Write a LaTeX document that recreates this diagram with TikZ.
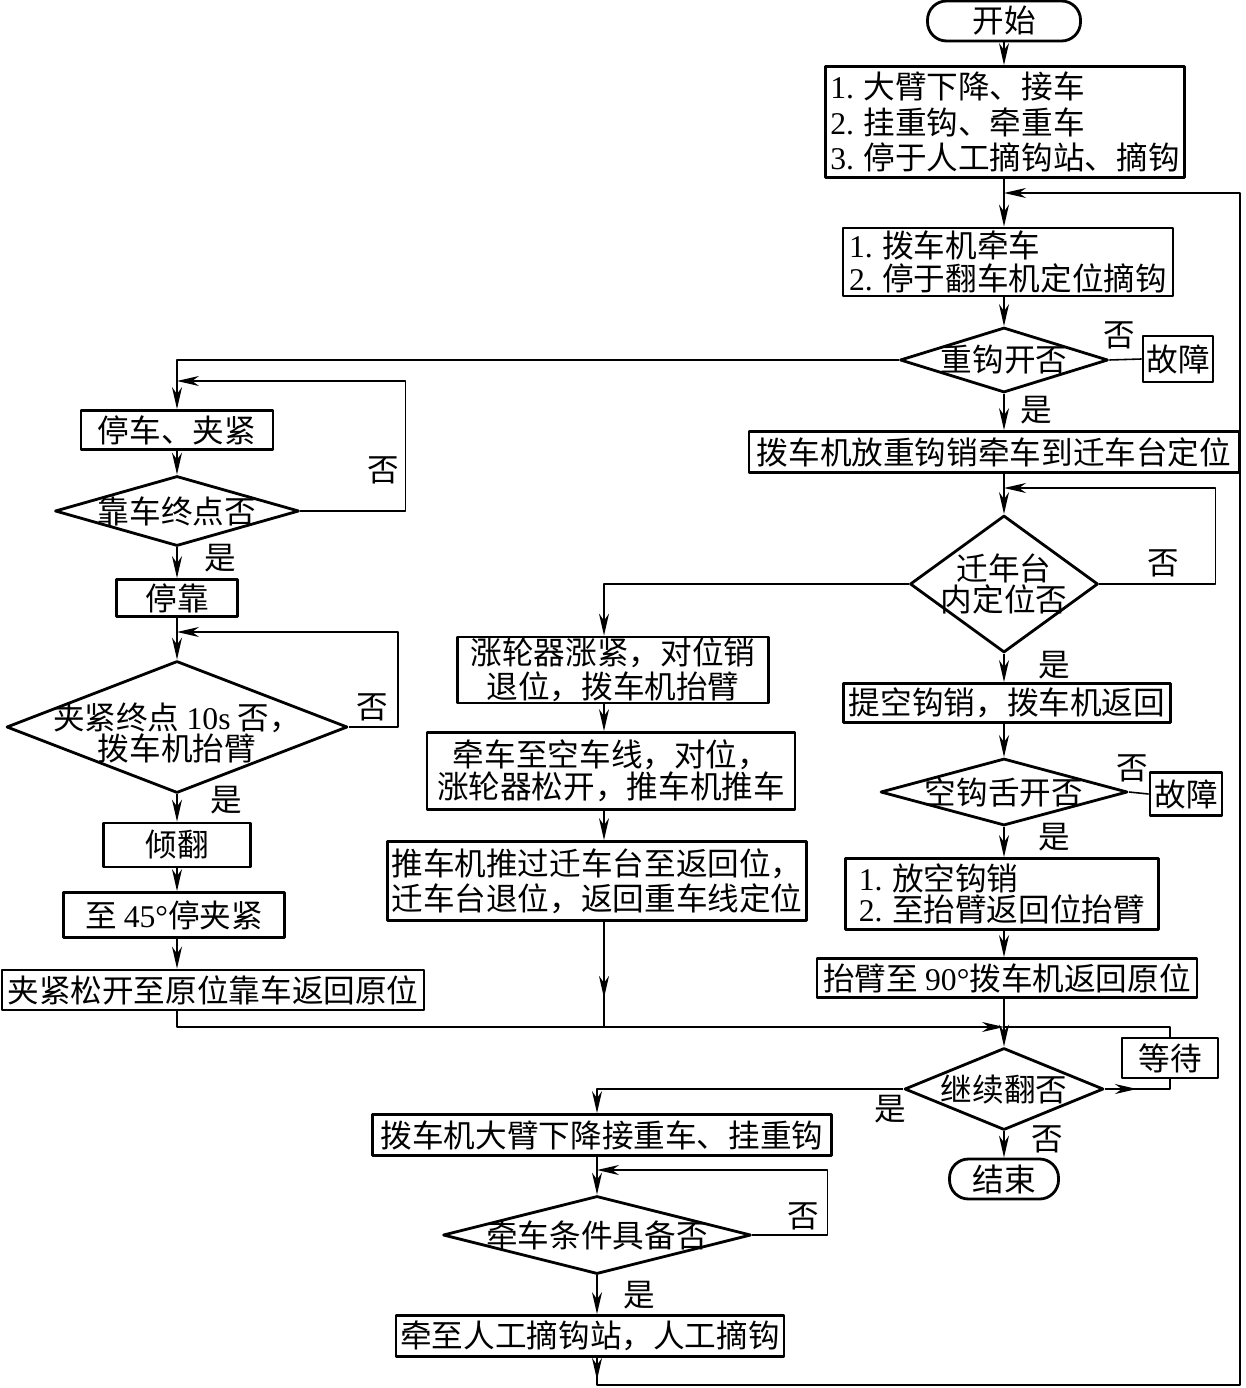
\documentclass[tikz,border=0pt]{standalone}
\usepackage{fontspec}
\setmainfont{Liberation Serif}
\newfontfamily\cjk{Noto Sans CJK SC}
\usetikzlibrary{arrows.meta,shapes.geometric}
\tikzset{wh/.style 2 args={minimum width=#1*0.1mm, minimum height=#2*0.1mm}}
\begin{document}
\begin{tikzpicture}[x=0.1mm, y=-0.1mm, >={Stealth[length=2.2mm,width=1mm,inset=0.7mm]}, line join=round,
	every node/.style={font=\cjk\fontsize{9pt}{9.6pt}\selectfont, inner sep=0pt},
	every label/.style={align=center},
	kuang/.style={draw, line width=0.8pt, align=center},
	lingxing/.style={draw, diamond, line width=0.8pt},
	duan/.style={draw, line width=0.8pt, rounded corners=1.9mm},
	xian/.style={line width=0.45pt}]
	
	\useasboundingbox (0,0) rectangle (1245,1388);
	
	\coordinate (zR) at (1004,0);
	\coordinate (zM) at (604,0);
	\coordinate (zB) at (597,0);
	\coordinate (zL) at (177,0);
	\coordinate (h0) at (1004,193);
	\coordinate (h2) at (1004,488);
	\coordinate (hM) at (1004,1027);
	\coordinate (h5) at (597,1170);
	\coordinate (h6) at (177,381);
	\coordinate (h7) at (177,632);
	\coordinate (r0) at (1240,1385);
	
	\node[duan, wh={153}{40}] (kaishi) at (1004,21) {开始};
	\node[kuang, wh={359}{111}, align=left, font=\cjk\fontsize{9pt}{10pt}\selectfont] (b1) at (1005,122) {{\rmfamily 1.} 大臂下降、接车\\{\rmfamily 2.} 挂重钩、牵重车\\{\rmfamily 3.} 停于人工摘钩站、摘钩};
	\node[kuang, wh={330}{68}, align=left] (b2) at (1008,262) {{\rmfamily 1.} 拨车机牵车\\{\rmfamily 2.} 停于翻车机定位摘钩};
	\node[lingxing, wh={208}{65}, label={center:重钩开否}] (d1) at (1004,360) {};
	\node[kuang, wh={70}{46}] (gz1) at (1178,359) {故障};
	\node[kuang, wh={490}{41}] (b3) at (994,452) {拨车机放重钩销牵车到迁车台定位};
	\node[lingxing, wh={188}{137}, label={[font=\cjk\fontsize{9pt}{8.6pt}\selectfont]center:{迁年台\\内定位否}}] (d2) at (1004,584) {};
	\node[kuang, wh={327}{39}] (b4) at (1007,703) {提空钩销，拨车机返回};
	\node[lingxing, wh={247}{67}, label={center:空钩舌开否}] (d3) at (1004,792) {};
	\node[kuang, wh={72}{43}] (gz2) at (1186,794) {故障};
	\node[kuang, wh={313}{71}, align=left, font=\cjk\fontsize{9pt}{8.8pt}\selectfont] (b5) at (1002,894) {{\rmfamily 1.} 放空钩销\\{\rmfamily 2.} 至抬臂返回位抬臂};
	\node[kuang, wh={380}{39}] (b6) at (1007,978) {抬臂至 {\rmfamily 90°}拨车机返回原位};
	\node[lingxing, wh={199}{82}, label={center:继续翻否}] (d4) at (1004,1089) {};
	\node[kuang, wh={96}{40}] (dd) at (1170,1058) {等待};
	\node[duan, wh={109}{40}] (jieshu) at (1004,1179) {结束};
	
	\node[kuang, wh={459}{41}] (b7) at (602,1135) {拨车机大臂下降接重车、挂重钩};
	\node[lingxing, wh={308}{78}, label={center:牵车条件具备否}] (d5) at (597,1235) {};
	\node[kuang, wh={388}{41}] (b8) at (590,1336) {牵至人工摘钩站，人工摘钩};
	
	\node[kuang, wh={311}{66}] (m1) at (613,670) {涨轮器涨紧，对位销\\退位，拨车机抬臂};
	\node[kuang, wh={368}{77}, font=\cjk\fontsize{9pt}{9.2pt}\selectfont] (m2) at (611,771) {牵车至空车线，对位，\\涨轮器松开，推车机推车};
	\node[kuang, wh={419}{79}, font=\cjk\fontsize{9pt}{10pt}\selectfont] (m3) at (597,881) {推车机推过迁车台至返回位，\\迁车台退位，返回重车线定位};
	
	\node[kuang, wh={192}{39}] (l1) at (177,430) {停车、夹紧};
	\node[lingxing, wh={244}{70}, label={center:靠车终点否}] (ld1) at (177,511) {};
	\node[kuang, wh={121}{37}] (l2) at (177,598) {停靠};
	\node[lingxing, wh={341}{132}, label={[font=\cjk\fontsize{9pt}{8.6pt}\selectfont, yshift=-0.6mm]center:{夹紧终点 {\rmfamily 10s} 否，\\拨车机抬臂}}] (ld2) at (177,727) {};
	\node[kuang, wh={147}{44}] (l3) at (177,845) {倾翻};
	\node[kuang, wh={221}{45}] (l4) at (174,915) {至 {\rmfamily 45°}停夹紧};
	\node[kuang, wh={422}{40}] (l5) at (213,990) {夹紧松开至原位靠车返回原位};
	
	\node (fou1) at (1119,335) {否};
	\node (shi1) at (1036,410) {是};
	\node (fou2) at (1163,563) {否};
	\node (shi2) at (1054,665) {是};
	\node (fou3) at (1132,768) {否};
	\node (shi3) at (1054,837) {是};
	\node (shi4) at (890,1109) {是};
	\node (fou4) at (1047,1139) {否};
	\node (fou5) at (803,1216) {否};
	\node (shi5) at (639,1295) {是};
	\node (fou6) at (383,470) {否};
	\node (shi6) at (220,558) {是};
	\node (fou7) at (372,707) {否};
	\node (shi7) at (226,800) {是};
	
	\draw[xian,->] (kaishi.south) -- (zR |- b1.north);
	\draw[xian,->] (zR |- b1.south) -- (zR |- b2.north);
	\draw[xian,->] (zR |- b2.south) -- (d1.north);
	\draw[xian] (d1.east) -- (gz1.west);
	\draw[xian,->] (d1.south) -- (zR |- b3.north);
	\draw[xian,->] (d1.west) -| (l1.north);
	\draw[xian,->] (zR |- b3.south) -- (d2.north);
	\draw[xian,->] (d2.east) -- ++(116,0) |- (h2);
	\draw[xian,->] (d2.west) -| (zM |- m1.north);
	\draw[xian,->] (d2.south) -- (zR |- b4.north);
	\draw[xian,->] (zR |- b4.south) -- (d3.north);
	\draw[xian] (d3.east) -- (gz2.west);
	\draw[xian,->] (d3.south) -- (zR |- b5.north);
	\draw[xian,->] (zR |- b5.south) -- (zR |- b6.north);
	\draw[xian,->] (zR |- b6.south) -- (d4.north);
	\draw[xian,->] (d4.east) -- ++(32,0);
	\draw[xian] (d4.east) -| (dd.south);
	\draw[xian] (dd.north) |- (hM);
	\draw[xian,->] (d4.west) -| (zB |- b7.north);
	\draw[xian,->] (d4.south) -- (zR |- jieshu.north);
	\draw[xian,->] (zB |- b7.south) -- (d5.north);
	\draw[xian,->] (d5.east) -- ++(75,0) |- (h5);
	\draw[xian,->] (d5.south) -- (zB |- b8.north);
	\draw[xian,->] (zB |- b8.south) -- ++(0,22);
	\draw[xian,->] (zB |- b8.south) |- (r0) |- (h0);
	
	\draw[xian,->] (zM |- m1.south) -- (zM |- m2.north);
	\draw[xian,->] (zM |- m2.south) -- (zM |- m3.north);
	\draw[xian,->] (zM |- m3.south) -- ++(0,76);
	\draw[xian] (zM |- m3.south) -- (zM |- hM);
	
	\draw[xian,->] (l1.south) -- (ld1.north);
	\draw[xian,->] (ld1.east) -- ++(105,0) |- (h6);
	\draw[xian,->] (ld1.south) -- (l2.north);
	\draw[xian,->] (l2.south) -- (ld2.north);
	\draw[xian,->] (ld2.east) -- ++(49,0) |- (h7);
	\draw[xian,->] (ld2.south) -- (l3.north);
	\draw[xian,->] (l3.south) -- (zL |- l4.north);
	\draw[xian,->] (zL |- l4.south) -- (zL |- l5.north);
	\draw[xian,->] (zL |- l5.south) |- (hM);
	
\end{tikzpicture}
\end{document}
